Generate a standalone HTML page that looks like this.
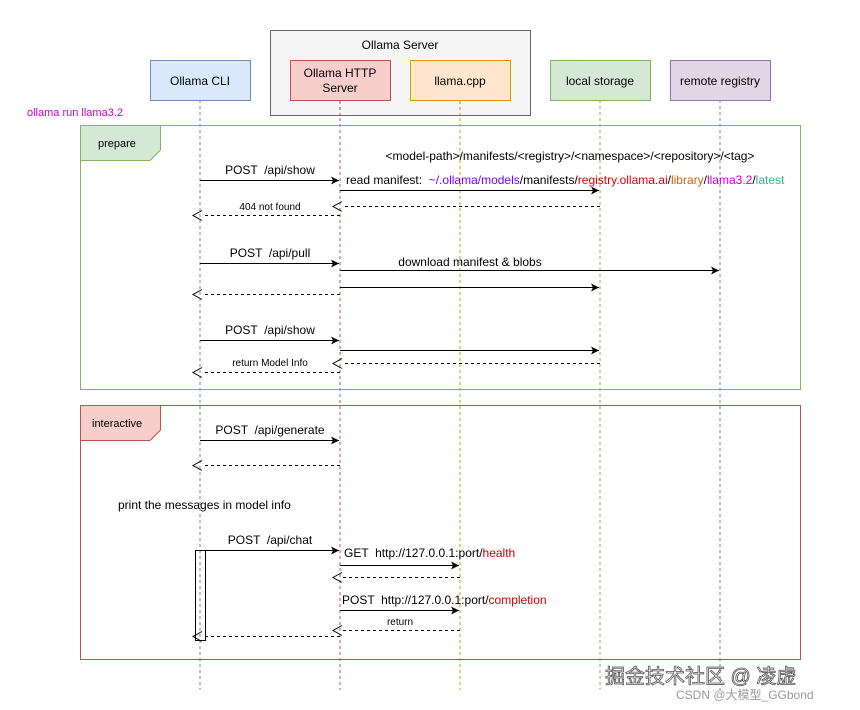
<!DOCTYPE html>
<html><head><meta charset="utf-8"><style>
body{margin:0;background:#fff;}
svg{display:block;font-family:"Liberation Sans","Noto Sans CJK SC",sans-serif;}
text{white-space:pre;}
</style></head><body>
<svg width="860" height="710" viewBox="0 0 860 710" xmlns="http://www.w3.org/2000/svg">
<defs>
<marker id="f" markerWidth="10" markerHeight="10" refX="8" refY="4" orient="auto" markerUnits="userSpaceOnUse"><path d="M0,0 L8,4 L0,8 L2,4 Z" fill="#000"/></marker>
<marker id="o" markerWidth="12" markerHeight="12" refX="1" refY="5" orient="auto" markerUnits="userSpaceOnUse"><path d="M1,0 L10,5 L1,10" fill="none" stroke="#000"/></marker>
</defs>
<rect width="860" height="710" fill="#fff"/>
<g stroke-dasharray="3,3" stroke-width="1">
<line x1="200" y1="100" x2="200" y2="690" stroke="#8c7ab0"/>
<line x1="340" y1="100" x2="340" y2="690" stroke="#b85450"/>
<line x1="460" y1="100" x2="460" y2="690" stroke="#d79b00"/>
<line x1="600" y1="100" x2="600" y2="690" stroke="#82b366"/>
<line x1="720" y1="100" x2="720" y2="690" stroke="#9673a6"/>
</g>
<rect x="270.5" y="30.5" width="260" height="85" fill="#f5f5f5" stroke="#666"/>
<text x="400" y="49" font-size="12" text-anchor="middle">Ollama Server</text>
<rect x="150.5" y="60.5" width="100" height="40" fill="#dae8fc" stroke="#6c8ebf"/>
<text x="200" y="85" font-size="12" text-anchor="middle">Ollama CLI</text>
<rect x="290.5" y="60.5" width="100" height="40" fill="#f8cecc" stroke="#b85450"/>
<text x="340" y="77" font-size="12" text-anchor="middle">Ollama HTTP</text>
<text x="340" y="92" font-size="12" text-anchor="middle">Server</text>
<line x1="340" y1="101" x2="340" y2="115" stroke="#b85450" stroke-dasharray="3,3"/>
<rect x="410.5" y="60.5" width="100" height="40" fill="#ffe6cc" stroke="#d79b00"/>
<text x="460" y="85" font-size="12" text-anchor="middle">llama.cpp</text>
<line x1="460" y1="101" x2="460" y2="115" stroke="#d79b00" stroke-dasharray="3,3"/>
<rect x="550.5" y="60.5" width="100" height="40" fill="#d5e8d4" stroke="#82b366"/>
<text x="600" y="85" font-size="12" text-anchor="middle">local storage</text>
<rect x="670.5" y="60.5" width="100" height="40" fill="#e1d5e7" stroke="#9673a6"/>
<text x="720" y="85" font-size="12" text-anchor="middle">remote registry</text>
<text x="27" y="116" font-size="11" fill="#cc00cc">ollama run llama3.2</text>
<rect x="80.5" y="125.5" width="720" height="264" fill="none" stroke="#82b366"/>
<path d="M80.5,125.5 H160.5 V150 L150,160.5 H80.5 Z" fill="#d5e8d4" stroke="#82b366"/>
<text x="98" y="147" font-size="11">prepare</text>
<rect x="80.5" y="405.5" width="720" height="254" fill="none" stroke="#b85450"/>
<path d="M80.5,405.5 H160.5 V430 L150,440.5 H80.5 Z" fill="#f8cecc" stroke="#b85450"/>
<text x="92" y="427" font-size="11">interactive</text>
<g stroke="#000" stroke-width="1" fill="none">
<line x1="200" y1="180.5" x2="339" y2="180.5" marker-end="url(#f)"/>
<line x1="340" y1="190.5" x2="599" y2="190.5" marker-end="url(#f)"/>
<line x1="600" y1="206.5" x2="342" y2="206.5" stroke-dasharray="3,3" marker-end="url(#o)"/>
<line x1="340" y1="215.5" x2="202" y2="215.5" stroke-dasharray="3,3" marker-end="url(#o)"/>
<line x1="200" y1="263.5" x2="339" y2="263.5" marker-end="url(#f)"/>
<line x1="340" y1="270.5" x2="719" y2="270.5" marker-end="url(#f)"/>
<line x1="340" y1="287.5" x2="599" y2="287.5" marker-end="url(#f)"/>
<line x1="340" y1="294.5" x2="202" y2="294.5" stroke-dasharray="3,3" marker-end="url(#o)"/>
<line x1="200" y1="340.5" x2="339" y2="340.5" marker-end="url(#f)"/>
<line x1="340" y1="350.5" x2="599" y2="350.5" marker-end="url(#f)"/>
<line x1="600" y1="363.5" x2="342" y2="363.5" stroke-dasharray="3,3" marker-end="url(#o)"/>
<line x1="340" y1="372.5" x2="202" y2="372.5" stroke-dasharray="3,3" marker-end="url(#o)"/>
<line x1="200" y1="440.5" x2="339" y2="440.5" marker-end="url(#f)"/>
<line x1="340" y1="465.5" x2="202" y2="465.5" stroke-dasharray="3,3" marker-end="url(#o)"/>
<line x1="205" y1="550.5" x2="339" y2="550.5" marker-end="url(#f)"/>
<line x1="340" y1="565.5" x2="459" y2="565.5" marker-end="url(#f)"/>
<line x1="460" y1="577.5" x2="342" y2="577.5" stroke-dasharray="3,3" marker-end="url(#o)"/>
<line x1="340" y1="610.5" x2="459" y2="610.5" marker-end="url(#f)"/>
<line x1="460" y1="630.5" x2="342" y2="630.5" stroke-dasharray="3,3" marker-end="url(#o)"/>
<line x1="340" y1="636.5" x2="202" y2="636.5" stroke-dasharray="3,3" marker-end="url(#o)"/>
</g>
<rect x="195.5" y="550.5" width="10" height="90" fill="none" stroke="#000"/>
<g font-size="12">
<text x="270" y="174" text-anchor="middle">POST  /api/show</text>
<text x="570" y="160" text-anchor="middle">&lt;model-path&gt;/manifests/&lt;registry&gt;/&lt;namespace&gt;/&lt;repository&gt;/&lt;tag&gt;</text>
<text x="346" y="184">read manifest:  <tspan fill="#7f00ff">~/.ollama/models</tspan>/manifests/<tspan fill="#e00000">registry.ollama.ai</tspan>/<tspan fill="#cc6600">library</tspan>/<tspan fill="#cc00cc">llama3.2</tspan>/<tspan fill="#44aa88">latest</tspan></text>
<text x="270" y="210" text-anchor="middle" font-size="10">404 not found</text>
<text x="270" y="257" text-anchor="middle">POST  /api/pull</text>
<text x="470" y="266" text-anchor="middle">download manifest &amp; blobs</text>
<text x="270" y="334" text-anchor="middle">POST  /api/show</text>
<text x="270" y="366" text-anchor="middle" font-size="10">return Model Info</text>
<text x="270" y="434" text-anchor="middle">POST  /api/generate</text>
<text x="118" y="509">print the messages in model info</text>
<text x="270" y="544" text-anchor="middle">POST  /api/chat</text>
<text x="344" y="557">GET  http://127.0.0.1:port/<tspan fill="#cc0000">health</tspan></text>
<text x="342" y="604">POST  http://127.0.0.1:port/<tspan fill="#cc0000">completion</tspan></text>
<text x="400" y="625" text-anchor="middle" font-size="10">return</text>
</g>
<text x="605" y="683" font-size="20" fill="#fff" stroke="#555" stroke-width="0.8">掘金技术社区 @ 凌虚</text>
<text x="676" y="699" font-size="12" fill="#999">CSDN @大模型_GGbond</text>
</svg>
</body></html>
